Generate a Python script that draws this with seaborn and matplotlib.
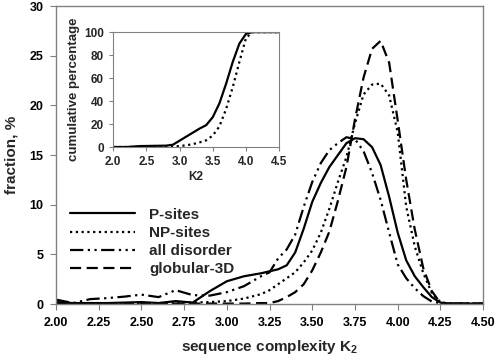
import numpy as np
import pandas as pd
import matplotlib
matplotlib.use("Agg")
import matplotlib.pyplot as plt
import seaborn as sns

# sequence complexity distributions (fraction, %)
k2 = [2.0, 2.1, 2.2, 2.3, 2.4, 2.5, 2.6, 2.7, 2.8, 2.9, 3.0, 3.1, 3.2, 3.25,
      3.3, 3.35, 3.4, 3.45, 3.5, 3.55, 3.6, 3.65, 3.7, 3.75, 3.8, 3.85, 3.9,
      3.95, 4.0, 4.05, 4.1, 4.15, 4.2, 4.25, 4.3, 4.4, 4.5]
p_sites = [0.2, 0.1, 0.1, 0.1, 0.15, 0.2, 0.1, 0.3, 0.15, 1.3, 2.3, 2.8, 3.1, 3.3,
           3.5, 3.9, 5.2, 7.6, 10.3, 12.2, 13.8, 15.0, 16.2, 16.7, 16.6, 15.8, 14.0,
           10.8, 7.2, 4.4, 2.8, 1.7, 0.7, 0.15, 0.05, 0.05, 0.05]
np_sites = [0.1, 0.1, 0.1, 0.1, 0.1, 0.1, 0.1, 0.15, 0.15, 0.2, 0.3, 0.55, 1.0, 1.4,
            2.0, 2.6, 3.2, 4.2, 5.4, 7.2, 9.6, 12.3, 14.8, 18.2, 21.1, 22.1, 22.2,
            21.0, 17.3, 9.8, 5.8, 3.1, 1.1, 0.2, 0.05, 0.05, 0.05]
all_disorder = [0.45, 0.1, 0.5, 0.6, 0.75, 0.95, 0.7, 1.4, 0.9, 0.85, 1.2, 1.8, 2.8, 3.2,
                4.6, 5.5, 7.0, 9.8, 12.3, 14.2, 15.5, 16.2, 16.8, 16.6, 15.4, 13.2, 10.5,
                7.2, 4.0, 2.6, 1.6, 0.8, 0.25, 0.1, 0.05, 0.05, 0.05]
globular_3d = [0.05, 0.05, 0.05, 0.05, 0.05, 0.05, 0.05, 0.05, 0.05, 0.05, 0.05, 0.05, 0.1, 0.1,
               0.3, 0.7, 1.2, 2.0, 3.4, 5.2, 7.3, 10.4, 13.8, 18.6, 22.8, 25.7, 26.5,
               24.3, 18.5, 12.5, 7.5, 3.6, 1.3, 0.1, 0.05, 0.05, 0.05]

# inset: cumulative percentage
k2_cum = [2.0, 2.2, 2.4, 2.6, 2.8, 2.9, 3.0, 3.1, 3.2, 3.3, 3.4, 3.5, 3.6, 3.7,
          3.8, 3.9, 4.0, 4.1, 4.5]
p_cum = [0, 0, 0.8, 1.0, 1.2, 2.0, 5.5, 9.0, 12.5, 16, 19, 26, 38, 55, 74, 90, 98.5, 100, 100]
np_cum = [0, 0, 0, 0.1, 0.3, 0.5, 0.8, 1.5, 2.5, 4.0, 5.8, 10, 18, 33, 52, 74, 95, 100, 100]

sns.set_style("ticks")
plt.rcParams["font.family"] = ["Liberation Sans", "DejaVu Sans"]
plt.rcParams["font.weight"] = "bold"
plt.rcParams["mathtext.fontset"] = "custom"
plt.rcParams["mathtext.bf"] = "Liberation Sans:bold"
plt.rcParams["mathtext.rm"] = "Liberation Sans:bold"

frame = "#808080"

fig = plt.figure(figsize=(4.96, 3.59), dpi=100)
ax = fig.add_axes([0.113, 0.153, 0.861, 0.830])

styles = {
    "P-sites": (p_sites, "-"),
    "NP-sites": (np_sites, (0, (1, 1.6))),
    "all disorder": (all_disorder, (0, (6, 2, 1, 2, 1, 2))),
    "globular-3D": (globular_3d, (0, (5, 2.5))),
}
for name, (vals, ls) in styles.items():
    df = pd.DataFrame({"k2": k2, "value": vals})
    sns.lineplot(data=df, x="k2", y="value", ax=ax, color="black",
                 linestyle=ls, linewidth=1.6, label=name)

ax.set_xlim(2.0, 4.5)
ax.set_ylim(0, 30)
ax.set_xticks(np.arange(2.0, 4.51, 0.25))
ax.set_xticklabels([f"{t:.2f}" for t in np.arange(2.0, 4.51, 0.25)])
ax.set_yticks(range(0, 31, 5))
ax.tick_params(labelsize=9, colors="black", length=4, color=frame, pad=5)
for s in ax.spines.values():
    s.set_color(frame)
    s.set_linewidth(1.0)
ax.set_xlabel(r"sequence complexity K$_{\mathbf{2}}$", fontsize=11, fontweight="bold", labelpad=7)
ax.set_ylabel("fraction, %", fontsize=11, fontweight="bold", labelpad=8)

leg = ax.legend(loc="upper left", bbox_to_anchor=(0.0, 0.37), frameon=False,
                handlelength=4.3, handletextpad=0.9, labelspacing=0.28,
                prop={"size": 11, "weight": "bold"})

# inset
ins = fig.add_axes([0.228, 0.5905, 0.335, 0.320])
df_p = pd.DataFrame({"k2": k2_cum, "value": p_cum})
df_np = pd.DataFrame({"k2": k2_cum, "value": np_cum})
sns.lineplot(data=df_p, x="k2", y="value", ax=ins, color="black", linewidth=1.6)
sns.lineplot(data=df_np, x="k2", y="value", ax=ins, color="black",
             linestyle=(0, (1, 1.6)), linewidth=1.6)
ins.set_xlim(2.0, 4.5)
ins.set_ylim(0, 100)
ins.set_xticks(np.arange(2.0, 4.51, 0.5))
ins.set_xticklabels([f"{t:.1f}" for t in np.arange(2.0, 4.51, 0.5)])
ins.set_yticks(range(0, 101, 20))
ins.tick_params(labelsize=8.5, length=3, color=frame)
for s in ins.spines.values():
    s.set_color(frame)
ins.set_xlabel("K2", fontsize=8.5, fontweight="bold", labelpad=2)
ins.set_ylabel("cumulative percentage", fontsize=9.5, fontweight="bold", labelpad=3)

fig.savefig("out.png", dpi=100)
